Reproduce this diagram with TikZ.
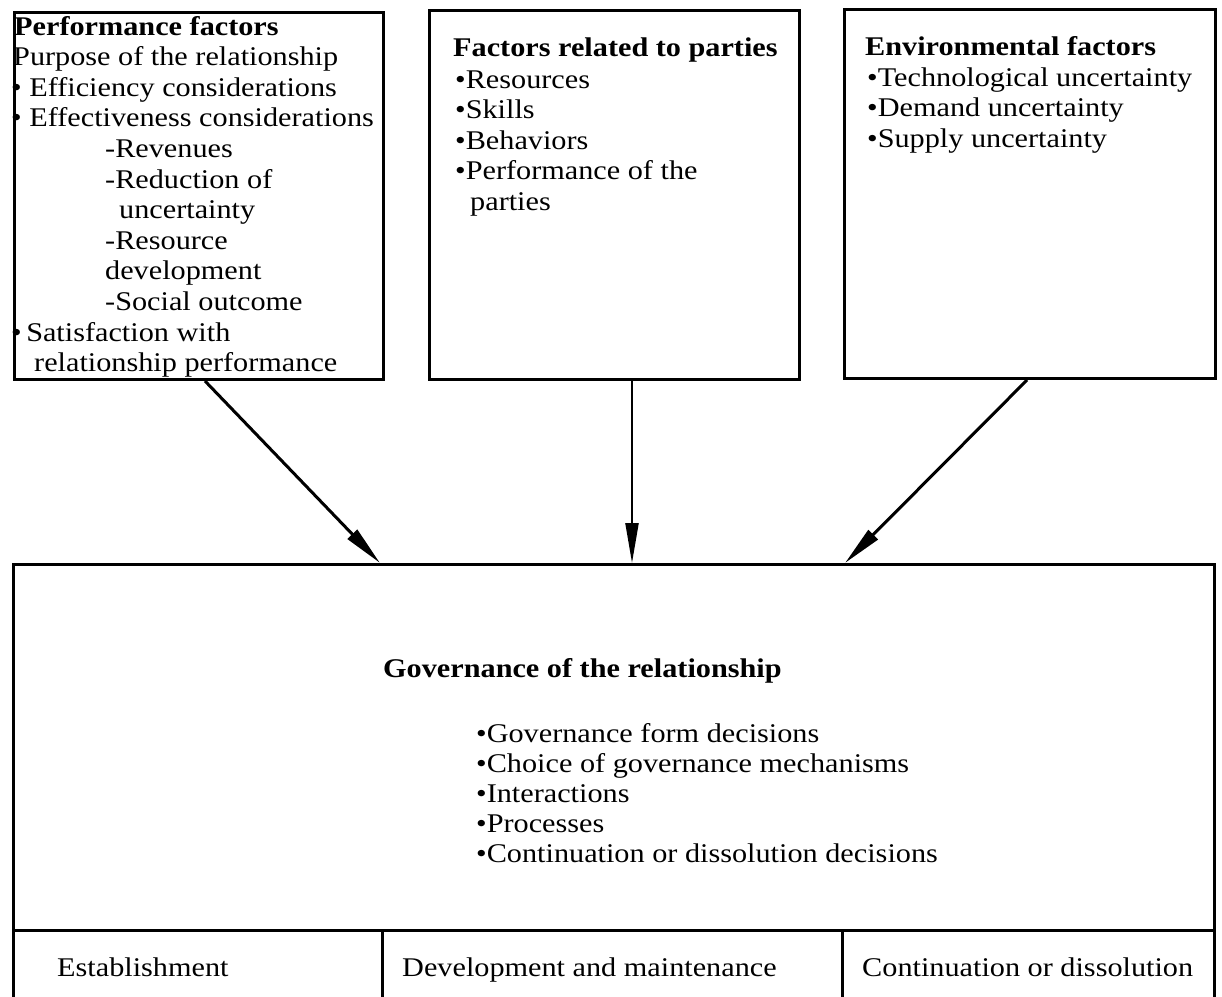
\documentclass[tikz,border=0pt]{standalone}
\usepackage{fontspec}
\setmainfont{Liberation Serif}[FakeStretch=1.12]
\usetikzlibrary{arrows.meta}
\tikzset{
  box/.style={draw, line width=3pt, inner sep=0pt, anchor=north west},
  t/.style={anchor=base west, inner sep=0pt, font=\fontsize{27}{30}\selectfont},
  tb/.style={t, font=\fontsize{27}{30}\selectfont\bfseries},
  arr/.style={line width=3pt, -{Triangle[length=40pt,width=13pt]}},
  rule/.style={line width=3pt}
}
\begin{document}
\begin{tikzpicture}[x=1pt,y=-1pt]
\useasboundingbox (0,0) rectangle (1222,996);
\clip (0,0) rectangle (1222,996);
% boxes
\node[box, minimum width=369pt, minimum height=367pt] (b1) at (13,11) {};
\node[box, minimum width=370pt, minimum height=369pt] (b2) at (428,9) {};
\node[box, minimum width=371pt, minimum height=369pt] (b3) at (843,8) {};
\node[box, line width=3.2pt, minimum width=1201pt, minimum height=460pt] (gov) at (12,563) {};
\coordinate (divL) at (12,930);
\coordinate (divR) at (1213,930);
\coordinate (v1t) at (382,930);
\coordinate (v1b) at (382,1005);
\coordinate (v2t) at (842,930);
\coordinate (v2b) at (842,1005);
\draw[rule] (divL) -- (divR);
\draw[rule] (v1t) -- (v1b);
\draw[rule] (v2t) -- (v2b);
% box 1 text
\node[tb] (p0) at (14,35) {Performance factors};
\node[t] (p1) at (13,65.6) {Purpose of the relationship};
\node[t] (p2) at (11,96.2) {\textbullet\ Efficiency considerations};
\node[t] (p3) at (11,126.8) {\textbullet\ Effectiveness considerations};
\node[t] (p4) at (105,157.4) {-Revenues};
\node[t] (p5) at (105,188) {-Reduction of};
\node[t] (p6) at (119,218.6) {uncertainty};
\node[t] (p7) at (105,249.2) {-Resource};
\node[t] (p8) at (105,279.8) {development};
\node[t] (p9) at (105,310.4) {-Social outcome};
\node[t] (p10) at (11,341) {\textbullet\,Satisfaction with};
\node[t] (p11) at (34,371.6) {relationship performance};
% box 2 text
\node[tb] (f0) at (453,56) {Factors related to parties};
\node[t] (f1) at (455,88) {\textbullet Resources};
\node[t] (f2) at (455,118.5) {\textbullet Skills};
\node[t] (f3) at (455,149) {\textbullet Behaviors};
\node[t] (f4) at (455,179.5) {\textbullet Performance of the};
\node[t] (f5) at (470,210) {parties};
% box 3 text
\node[tb] (e0) at (865,55) {Environmental factors};
\node[t] (e1) at (867,86) {\textbullet Technological uncertainty};
\node[t] (e2) at (867,116.5) {\textbullet Demand uncertainty};
\node[t] (e3) at (867,147) {\textbullet Supply uncertainty};
% governance text
\node[tb] (g0) at (383,677) {Governance of the relationship};
\node[t] (g1) at (476,742) {\textbullet Governance form decisions};
\node[t] (g2) at (476,772) {\textbullet Choice of governance mechanisms};
\node[t] (g3) at (476,802) {\textbullet Interactions};
\node[t] (g4) at (476,832) {\textbullet Processes};
\node[t] (g5) at (476,862) {\textbullet Continuation or dissolution decisions};
% phases
\node[t] (s1) at (57,976) {Establishment};
\node[t] (s2) at (402,976) {Development and maintenance};
\node[t] (s3) at (862,976) {Continuation or dissolution};
% arrows
\draw[arr] ([xshift=192pt]b1.south west) -- ([xshift=368pt]gov.north west);
\draw[arr, line width=2.2pt] ([xshift=204pt]b2.south west) -- ([xshift=620pt]gov.north west);
\draw[arr] ([xshift=184pt]b3.south west) -- ([xshift=833pt]gov.north west);
\end{tikzpicture}
\end{document}
